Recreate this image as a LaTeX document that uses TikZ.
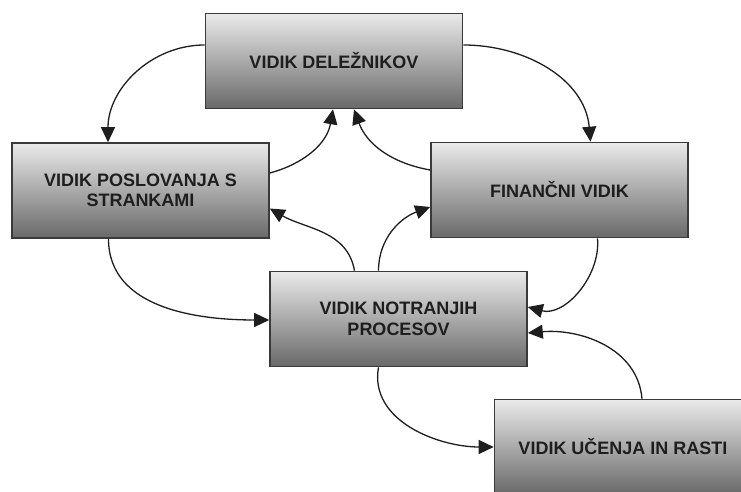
\documentclass[tikz,border=0pt]{standalone}
\usepackage{fontspec}
\setmainfont{Liberation Sans}
\usetikzlibrary{arrows.meta}
\definecolor{boxtop}{HTML}{EAEAEA}
\definecolor{boxbot}{HTML}{696969}
\definecolor{boxline}{HTML}{3A3A3A}
\definecolor{ink}{HTML}{1E1E1E}
\begin{document}
\begin{tikzpicture}[x=1pt,y=1pt,
  view/.style={draw=boxline, line width=1.6pt, top color=boxtop, bottom color=boxbot,
    minimum width=257pt, minimum height=95pt, inner sep=0pt, align=center,
    text=ink, font=\fontsize{18}{20.5}\selectfont\bfseries},
  link/.style={draw=ink, line width=1.3pt, -{Triangle[length=15pt,width=14pt]}}]
\useasboundingbox (0,0) rectangle (741,492);
\clip (0,0) rectangle (741,492);

% the five perspectives
\node[view] (top)   at (334,431)   {VIDIK DELEŽNIKOV};
\node[view] (left)  at (140.5,301.5) {VIDIK POSLOVANJA S\\STRANKAMI};
\node[view] (right) at (559.5,302) {FINANČNI VIDIK};
\node[view] (mid)   at (398.5,173) {VIDIK NOTRANJIH\\PROCESOV};
\node[view] (learn) at (623,45)    {VIDIK UČENJA IN RASTI};

% links between perspectives
\draw[link] ([yshift=16pt]top.west) to[out=180,in=90] ([xshift=-32.5pt]left.north);
\draw[link] ([yshift=16pt]top.east) to[out=0,in=95] ([xshift=31pt]right.north);
\draw[link] ([yshift=17.5pt]left.east) to[out=15,in=-100] ([xshift=-1pt]top.south);
\draw[link] ([yshift=20pt]right.west) to[out=170,in=-70] ([xshift=20pt]top.south);
\draw[link] ([xshift=-32pt]left.south) to[out=-90,in=180] ([yshift=-1pt]mid.west);
\draw[link] ([xshift=-44pt]mid.north) to[out=100,in=-30] ([yshift=-18pt]left.east);
\draw[link] ([xshift=-20pt]mid.north) to[out=90,in=200] ([yshift=-17pt]right.west);
\draw[link] ([xshift=38pt]right.south) to[out=-85,in=-15] ([yshift=12pt]mid.east);
\draw[link] ([xshift=19pt]learn.north) to[out=95,in=5] ([yshift=-14pt]mid.east);
\draw[link] ([xshift=-20pt]mid.south) to[out=-100,in=180] (learn.west);
\end{tikzpicture}
\end{document}
